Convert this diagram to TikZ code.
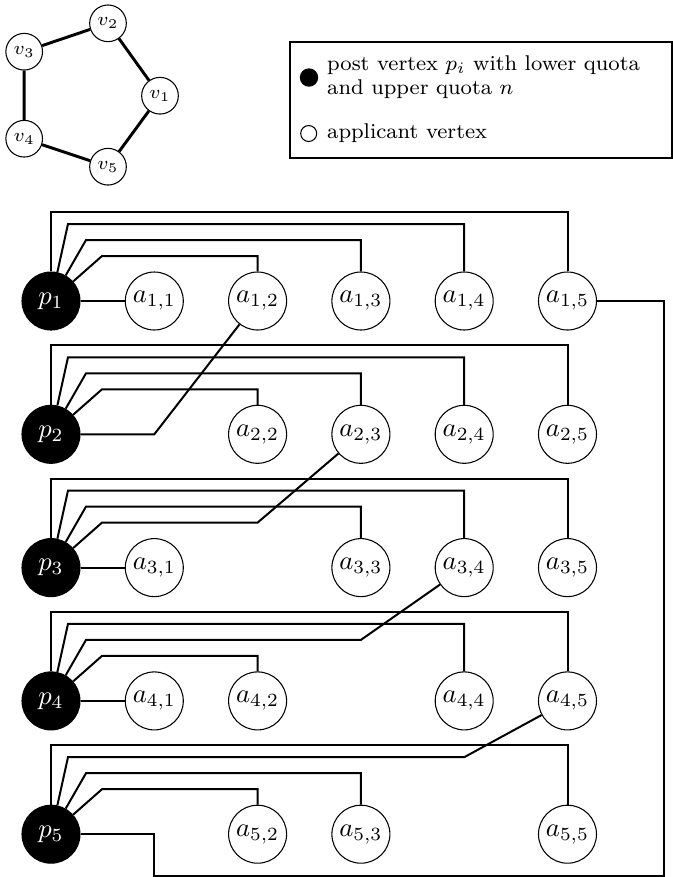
\documentclass[tikz,border=0pt]{standalone}
\begin{document}
\begin{tikzpicture}[x=0.375pt,y=-0.375pt,
 post/.style={circle, fill=black, draw=black, line width=0.4pt, text=white, minimum size=21.75pt, inner sep=0pt},
 app/.style={circle, draw=black, line width=0.4pt, minimum size=21.75pt, inner sep=0pt},
 vtx/.style={circle, draw=black, line width=0.4pt, minimum size=13.75pt, inner sep=0pt, font=\fontsize{7.5}{9}\selectfont},
 link/.style={line width=0.75pt, line join=miter},
 cyc/.style={line width=1.1pt},
 legtext/.style={font=\footnotesize, anchor=base west, inner sep=0pt}]
\useasboundingbox (0,0) rectangle (673,877);

% small cycle graph
\node[vtx] (v1) at (160,95.7) {$v_1$};
\node[vtx] (v2) at (108,23.3) {$v_2$};
\node[vtx] (v3) at (24.2,51.7) {$v_3$};
\node[vtx] (v4) at (24.2,138.7) {$v_4$};
\node[vtx] (v5) at (108,166.7) {$v_5$};
\draw[cyc] (v1) -- (v2) -- (v3) -- (v4) -- (v5) -- (v1);

% legend
\node[draw, line width=0.75pt, inner sep=0pt, minimum width=143.4pt, minimum height=43.4pt, anchor=north west] (legend) at (288.5,41) {};
\node[circle, fill=black, minimum size=6.9pt, inner sep=0pt] (kpost) at (309,77.5) {};
\node[circle, draw=black, line width=0.4pt, minimum size=6pt, inner sep=0pt] (kapp) at (308.7,133.5) {};
\node[legtext] (t1) at (326.7,70.7) {post vertex $p_i$ with lower quota};
\node[legtext] (t2) at (326.7,94.3) {and upper quota $n$};
\node[legtext] (t3) at (326.7,138.3) {applicant vertex};

% post vertices
\node[post] (p1) at (51,301) {$p_1$};
\node[post] (p2) at (51,434.3) {$p_2$};
\node[post] (p3) at (51,567.6) {$p_3$};
\node[post] (p4) at (51,700.9) {$p_4$};
\node[post] (p5) at (51,834.2) {$p_5$};

% applicant vertices
\node[app] (a11) at (154.3,301) {$a_{1,1}$};
\node[app] (a12) at (257.6,301) {$a_{1,2}$};
\node[app] (a13) at (360.9,301) {$a_{1,3}$};
\node[app] (a14) at (464.2,301) {$a_{1,4}$};
\node[app] (a15) at (567.5,301) {$a_{1,5}$};

\node[app] (a22) at (257.6,434.3) {$a_{2,2}$};
\node[app] (a23) at (360.9,434.3) {$a_{2,3}$};
\node[app] (a24) at (464.2,434.3) {$a_{2,4}$};
\node[app] (a25) at (567.5,434.3) {$a_{2,5}$};

\node[app] (a31) at (154.3,567.6) {$a_{3,1}$};
\node[app] (a33) at (360.9,567.6) {$a_{3,3}$};
\node[app] (a34) at (464.2,567.6) {$a_{3,4}$};
\node[app] (a35) at (567.5,567.6) {$a_{3,5}$};

\node[app] (a41) at (154.3,700.9) {$a_{4,1}$};
\node[app] (a42) at (257.6,700.9) {$a_{4,2}$};
\node[app] (a44) at (464.2,700.9) {$a_{4,4}$};
\node[app] (a45) at (567.5,700.9) {$a_{4,5}$};

\node[app] (a52) at (257.6,834.2) {$a_{5,2}$};
\node[app] (a53) at (360.9,834.2) {$a_{5,3}$};
\node[app] (a55) at (567.5,834.2) {$a_{5,5}$};

% row 1
\draw[link] (p1) -- (a11);
\draw[link] (p1) -- (51,212) -| (a15);
\draw[link] (p1) -- (68,224) -| (a14);
\draw[link] (p1) -- (86,240) -| (a13);
\draw[link] (p1) -- (102,256) -| (a12);
\draw[link] (a15) -- (664,301) -- (664,875.5) -- (154.3,875.5) -- (154.3,834.2) -- (p5);

% row 2
\draw[link] (p2) -- (51,345.3) -| (a25);
\draw[link] (p2) -- (68,357.3) -| (a24);
\draw[link] (p2) -- (86,373.3) -| (a23);
\draw[link] (p2) -- (102,389.3) -| (a22);
\draw[link] (p2) -- (154.3,434.3) -- (a12);

% row 3
\draw[link] (p3) -- (a31);
\draw[link] (p3) -- (51,478.6) -| (a35);
\draw[link] (p3) -- (68,490.6) -| (a34);
\draw[link] (p3) -- (86,506.6) -| (a33);
\draw[link] (p3) -- (102,522.6) -- (257.6,522.6) -- (a23);

% row 4
\draw[link] (p4) -- (a41);
\draw[link] (p4) -- (51,611.9) -| (a45);
\draw[link] (p4) -- (68,623.9) -| (a44);
\draw[link] (p4) -- (86,639.9) -- (360.9,639.9) -- (a34);
\draw[link] (p4) -- (102,655.9) -| (a42);

% row 5
\draw[link] (p5) -- (51,745.2) -| (a55);
\draw[link] (p5) -- (68,757.2) -- (464.2,757.2) -- (a45);
\draw[link] (p5) -- (86,773.2) -| (a53);
\draw[link] (p5) -- (102,789.2) -| (a52);
\end{tikzpicture}
\end{document}
